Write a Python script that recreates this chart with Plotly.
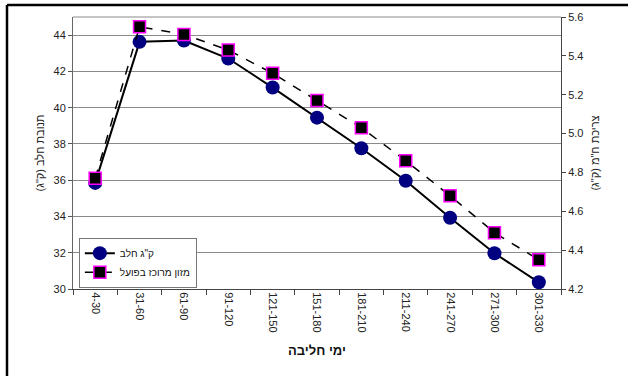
import plotly.graph_objects as go

# Days-in-milk groups
categories = ["4-30", "31-60", "61-90", "91-120", "121-150", "151-180",
              "181-210", "211-240", "241-270", "271-300", "301-330"]

# Milk yield (kg/day), left axis
milk_kg = [35.85, 43.63, 43.70, 42.71, 41.11, 39.45, 37.76, 35.97, 33.93, 31.97, 30.37]

# Actual concentrate intake (kg DM), right axis
concentrate_dm = [4.77, 5.55, 5.51, 5.43, 5.31, 5.17, 5.03, 4.86, 4.68, 4.49, 4.35]

left_ticks = [30, 32, 34, 36, 38, 40, 42, 44]
right_ticks = [4.2, 4.4, 4.6, 4.8, 5.0, 5.2, 5.4, 5.6]

FONT = "Liberation Sans, Arial, DejaVu Sans, sans-serif"

fig = go.Figure()

fig.add_trace(go.Scatter(
    x=categories, y=milk_kg, name='ק"ג חלב', mode="lines+markers",
    line=dict(color="black", width=2),
    marker=dict(symbol="circle", size=14, color="#000080",
                line=dict(color="#000080", width=0)),
    yaxis="y",
))

fig.add_trace(go.Scatter(
    x=categories, y=concentrate_dm, name="מזון מרוכז בפועל", mode="lines+markers",
    line=dict(color="black", width=1.5, dash="dash"),
    marker=dict(symbol="square", size=12, color="black",
                line=dict(color="#FF00FF", width=1.5)),
    yaxis="y2",
))

fig.update_layout(
    width=628, height=376,
    margin=dict(l=73, r=67, t=17, b=87),
    paper_bgcolor="white", plot_bgcolor="white",
    font=dict(family=FONT, size=11, color="#222"),
    showlegend=True,
    legend=dict(
        x=0.012, y=0.005, xanchor="left", yanchor="bottom",
        bgcolor="white", bordercolor="#777", borderwidth=1,
        font=dict(size=10, color="#111"),
        tracegroupgap=0, itemwidth=30,
    ),
    xaxis=dict(
        type="category", tickangle=90,
        showgrid=False, showline=True, linecolor="#444", linewidth=1,
        ticks="outside", ticklen=5, tickcolor="#444", tickson="boundaries",
        tickfont=dict(size=11, color="#222"),
        title=dict(text="<b>ימי חליבה</b>", font=dict(size=13, color="#111"), standoff=14),
        mirror=False, range=[-0.5, 10.5],
    ),
    yaxis=dict(
        range=[30, 45], tickvals=left_ticks,
        showgrid=True, gridcolor="#8a8a8a", gridwidth=1,
        showline=True, linecolor="#666", linewidth=1,
        ticks="outside", ticklen=4, tickcolor="#555",
        tickfont=dict(size=11, color="#222"),
        title=dict(text='תנובת חלב (ק"ג)', font=dict(size=11, color="#222"), standoff=6),
        zeroline=False,
    ),
    yaxis2=dict(
        range=[4.2, 5.6], tickvals=right_ticks, tickformat=".1f",
        overlaying="y", side="right",
        showgrid=False, showline=True, linecolor="#444", linewidth=1,
        ticks="outside", ticklen=4, tickcolor="#444",
        tickfont=dict(size=11, color="#222"),
        title=dict(text='צריכת ח"מ (ק"ג)', font=dict(size=11, color="#222"), standoff=8),
        zeroline=False,
    ),
)

# Top border line of the plot area
fig.add_shape(type="line", xref="paper", yref="paper", x0=0, x1=1, y0=1, y1=1,
              line=dict(color="#8a8a8a", width=1))

# Outer frame (top and left edges)
fig.add_shape(type="line", xref="paper", yref="paper",
              x0=(7 - 73) / 488, x1=(640 - 73) / 488, y0=(289 - 5) / 272, y1=(289 - 5) / 272,
              line=dict(color="black", width=2.5))
fig.add_shape(type="line", xref="paper", yref="paper",
              x0=(7 - 73) / 488, x1=(7 - 73) / 488, y0=(289 - 5) / 272, y1=(289 - 390) / 272,
              line=dict(color="black", width=2.5))

fig.write_html("out.html")
